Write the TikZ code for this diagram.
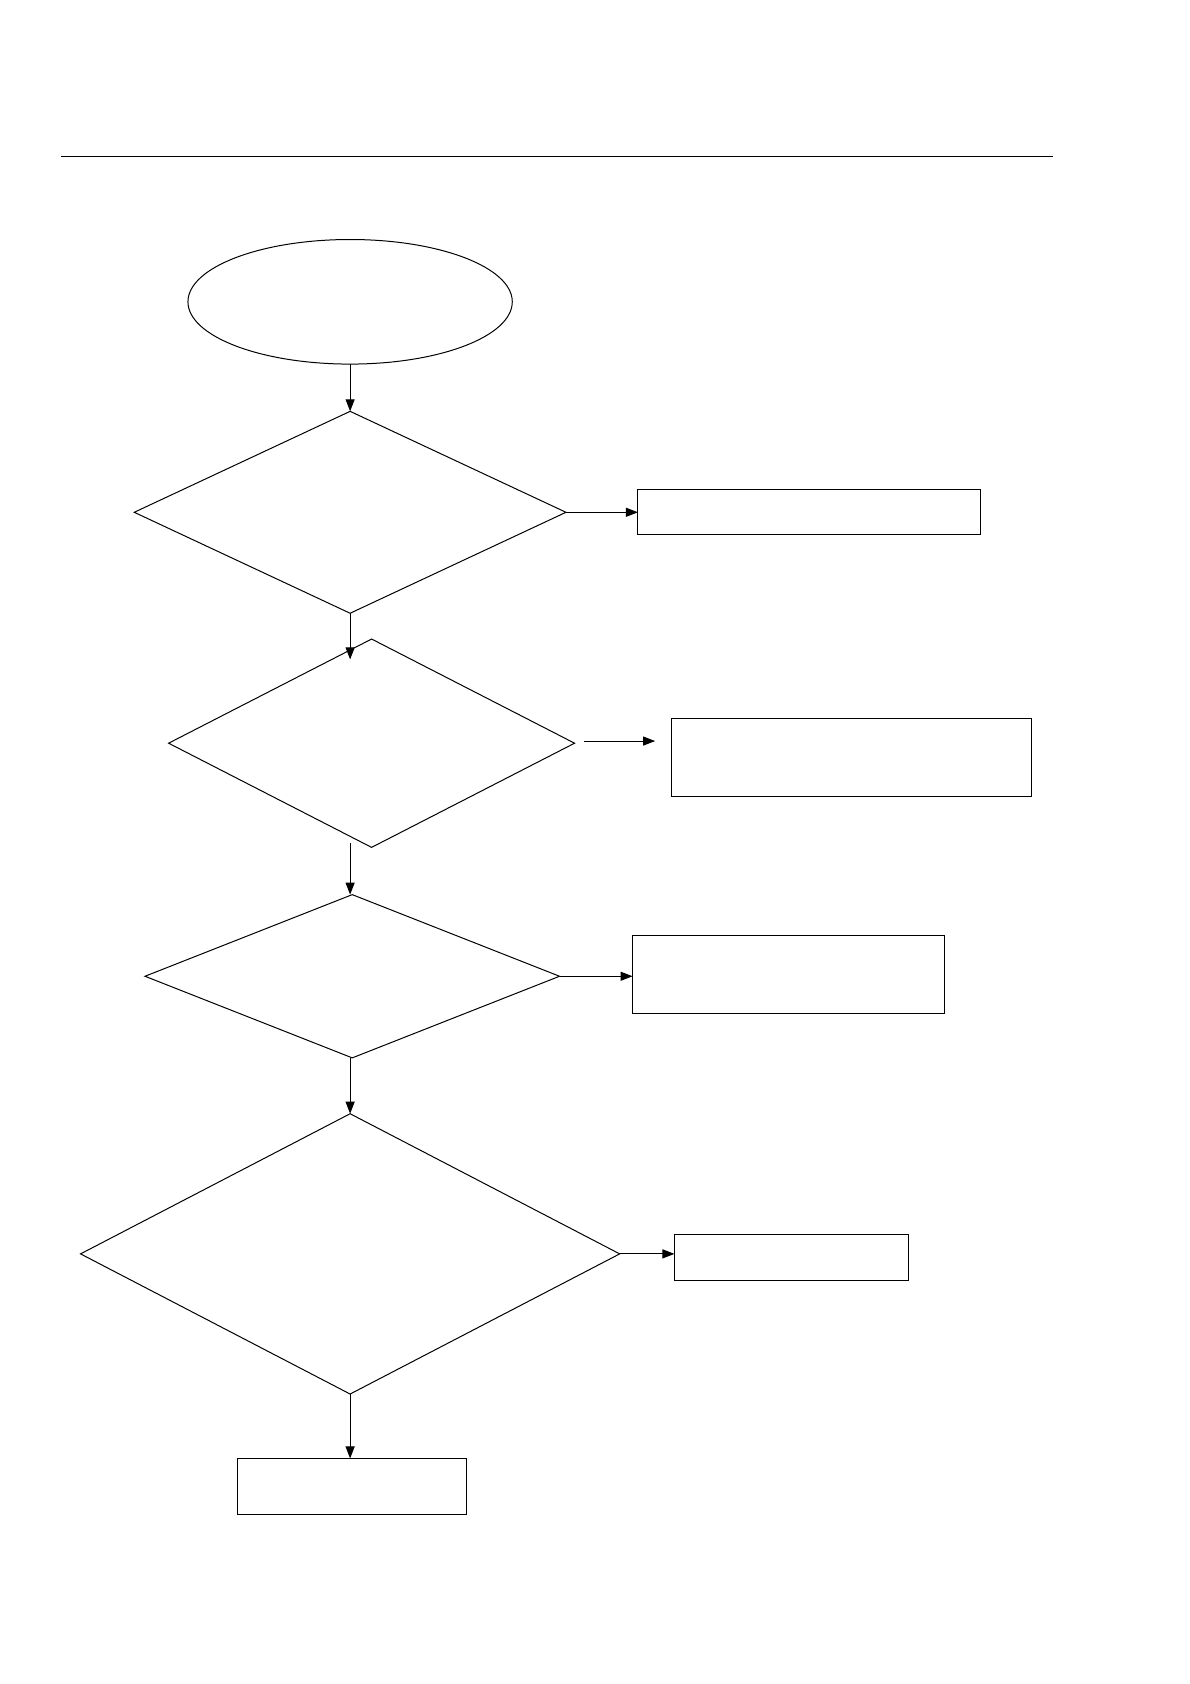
\documentclass[tikz,border=0pt]{standalone}
\usetikzlibrary{shapes.geometric,arrows.meta}
\begin{document}
\begin{tikzpicture}[x=1.074pt,y=-1.074pt,
  every node/.style={draw,line width=1pt,inner sep=0pt,outer sep=0pt},
  dia/.style={diamond},
  box/.style={rectangle},
  conn/.style={line width=1pt,-{Triangle[length=12pt,width=9pt]}},
  plain/.style={line width=1pt}]
\useasboundingbox (0,0) rectangle (1108,1568);
% header rule
\coordinate (r1) at (57,146);
\coordinate (r2) at (980,146);
\draw[line width=0.7pt] (r1) -- (r2);
% nodes
\node[ellipse,minimum width={302*1.074pt},minimum height={116*1.074pt}] (ell) at (326,281) {};
\node[dia,minimum width={402*1.074pt},minimum height={188*1.074pt}] (d1) at (326,477) {};
\node[box,minimum width={319*1.074pt},minimum height={42*1.074pt}] (b1) at (753.5,477) {};
\node[dia,minimum width={378*1.074pt},minimum height={194*1.074pt}] (d2) at (346,692) {};
\node[box,minimum width={335*1.074pt},minimum height={73*1.074pt}] (b2) at (792.5,705.5) {};
\node[dia,minimum width={386*1.074pt},minimum height={152*1.074pt}] (d3) at (328,909) {};
\node[box,minimum width={290*1.074pt},minimum height={73*1.074pt}] (b3) at (734,907.5) {};
\node[dia,minimum width={502*1.074pt},minimum height={261*1.074pt}] (d4) at (326,1167.5) {};
\node[box,minimum width={218*1.074pt},minimum height={43*1.074pt}] (b4) at (737,1170.5) {};
\node[box,minimum width={213*1.074pt},minimum height={52*1.074pt}] (b5) at (327.5,1384) {};
% free connector ends
\coordinate (t2) at (326,614);
\coordinate (a2s) at (544,690);
\coordinate (a2e) at (610,690);
\coordinate (s3) at (326,785);
% connectors
\draw[conn] (ell.south) -- (d1.north);
\draw[conn] (d1.east) -- (b1.west);
\draw[conn] (d1.south) -- (t2);
\draw[conn] (a2s) -- (a2e);
\draw[conn] (s3) -- (d3.north -| s3);
\draw[conn] (d3.east) -- (b3.west |- d3.east);
\draw[conn] (d3.south -| s3) -- (d4.north);
\draw[conn] (d4.east) -- (b4.west |- d4.east);
\draw[conn] (d4.south) -- (b5.north -| d4.south);
\end{tikzpicture}
\end{document}
